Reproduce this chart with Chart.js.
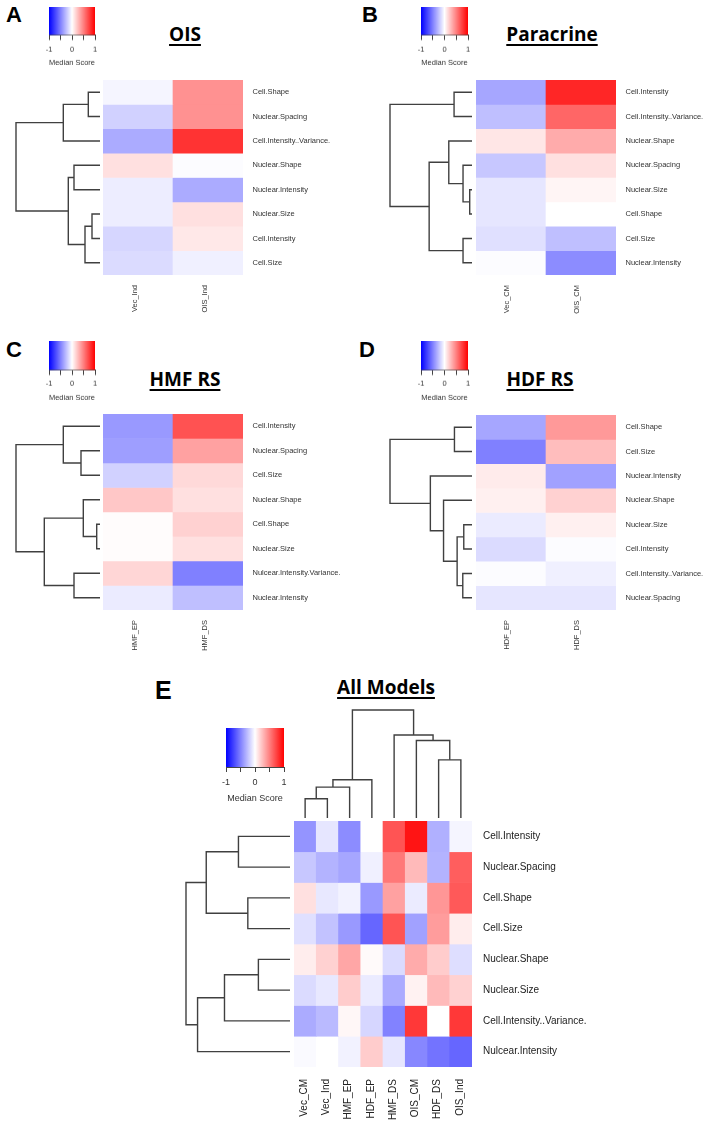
<!DOCTYPE html>
<html><head><meta charset="utf-8">
<script src="https://cdn.jsdelivr.net/npm/chart.js@4.4.1/dist/chart.umd.min.js"></script>
<style>
html,body{margin:0;padding:0;background:#fff;}
body{position:relative;width:707px;height:1124px;overflow:hidden;}
canvas{position:absolute;}
.letter{position:absolute;font-family:"Liberation Sans",Arial,sans-serif;font-weight:bold;color:#000;white-space:nowrap;}
.title{position:absolute;width:240px;text-align:center;font-family:"Open Sans",sans-serif;font-weight:bold;font-size:19px;line-height:19px;color:#000;text-decoration:underline;text-decoration-thickness:2px;text-underline-offset:3px;white-space:nowrap;}
</style></head><body>
<div class="letter" style="left:6px;top:4px;font-size:22px;line-height:22px;">A</div>
<div class="letter" style="left:362px;top:4px;font-size:22px;line-height:22px;">B</div>
<div class="letter" style="left:6px;top:339px;font-size:22px;line-height:22px;">C</div>
<div class="letter" style="left:359px;top:339px;font-size:22px;line-height:22px;">D</div>
<div class="letter" style="left:155px;top:678px;font-size:25px;line-height:25px;">E</div>
<div class="title" style="left:65px;top:25px;">OIS</div>
<div class="title" style="left:432px;top:25px;">Paracrine</div>
<div class="title" style="left:65px;top:370px;">HMF RS</div>
<div class="title" style="left:420px;top:370px;">HDF RS</div>
<div class="title" style="left:266px;top:678px;">All Models</div>
<script>
// ---------------- data ----------------
const scoreMin = -1, scoreMax = 1;
const keyTicks = [-1, -0.5, 0, 0.5, 1];
const keyTickLabels = ['-1', '', '0', '', '1'];
const keyTitle = 'Median Score';

// A: OIS
const oisRows = ['Cell.Shape','Nuclear.Spacing','Cell.Intensity..Variance.','Nuclear.Shape','Nuclear.Intensity','Nuclear.Size','Cell.Intensity','Cell.Size'];
const oisCols = ['Vec_Ind','OIS_Ind'];
const oisVecInd = [-0.04,-0.18,-0.33,0.12,-0.07,-0.07,-0.16,-0.14];
const oisOisInd = [0.43,0.43,0.80,-0.01,-0.33,0.12,0.09,-0.06];
const oisRowMerge = [[-1,-2,0.117],[1,-3,0.367],[-4,-5,0.26],[-6,-7,0.08],[4,-8,0.15],[3,5,0.317],[2,6,0.84]];

// B: Paracrine
const paraRows = ['Cell.Intensity','Cell.Intensity..Variance.','Nuclear.Shape','Nuclear.Spacing','Nuclear.Size','Cell.Shape','Cell.Size','Nuclear.Intensity'];
const paraCols = ['Vec_CM','OIS_CM'];
const paraVecCM = [-0.35,-0.25,0.10,-0.22,-0.10,-0.10,-0.12,-0.01];
const paraOisCM = [0.85,0.60,0.33,0.12,0.04,0.00,-0.25,-0.45];
const paraRowMerge = [[-1,-2,0.18],[-5,-6,0.023],[-4,2,0.09],[-3,3,0.233],[-7,-8,0.09],[4,5,0.43],[1,6,0.823]];

// C: HMF RS
const hmfRows = ['Cell.Intensity','Nuclear.Spacing','Cell.Size','Nuclear.Shape','Cell.Shape','Nuclear.Size','Nulcear.Intensity.Variance.','Nuclear.Intensity'];
const hmfCols = ['HMF_EP','HMF_DS'];
const hmfEP = [-0.40,-0.38,-0.18,0.22,0.01,0.01,0.16,-0.08];
const hmfDS = [0.68,0.37,0.15,0.12,0.18,0.12,-0.50,-0.25];
const hmfRowMerge = [[-2,-3,0.19],[-1,1,0.367],[-5,-6,0.033],[-4,3,0.167],[-7,-8,0.26],[4,5,0.557],[2,6,0.84]];

// D: HDF RS
const hdfRows = ['Cell.Shape','Cell.Size','Nuclear.Intensity','Nuclear.Shape','Nuclear.Size','Cell.Intensity','Cell.Intensity..Variance.','Nuclear.Spacing'];
const hdfCols = ['HDF_EP','HDF_DS'];
const hdfEP = [-0.35,-0.50,0.08,0.06,-0.08,-0.14,-0.01,-0.10];
const hdfDS = [0.40,0.26,-0.37,0.18,0.06,-0.01,-0.06,-0.10];
const hdfRowMerge = [[-1,-2,0.177],[-5,-6,0.083],[-7,-8,0.093],[2,3,0.15],[-4,4,0.287],[-3,5,0.42],[1,6,0.827]];

// E: All Models
const allRows = ['Cell.Intensity','Nuclear.Spacing','Cell.Shape','Cell.Size','Nuclear.Shape','Nuclear.Size','Cell.Intensity..Variance.','Nulcear.Intensity'];
const allCols = ['Vec_CM','Vec_Ind','HMF_EP','HDF_EP','HMF_DS','OIS_CM','HDF_DS','OIS_Ind'];
const allVecCM  = [-0.42,-0.22,0.12,-0.12,0.07,-0.14,-0.33,-0.02];
const allVecInd = [-0.10,-0.30,-0.09,-0.24,0.18,-0.09,-0.27,0.00];
const allHmfEP  = [-0.45,-0.35,-0.05,-0.40,0.35,0.20,0.03,-0.05];
const allHdfEP  = [0.00,-0.06,-0.40,-0.60,0.02,-0.08,-0.16,0.20];
const allHmfDS  = [0.67,0.53,0.37,0.67,-0.14,-0.33,-0.49,-0.10];
const allOisCM  = [0.92,0.27,-0.08,-0.37,0.33,0.05,0.78,-0.47];
const allHdfDS  = [-0.31,-0.30,0.41,0.39,0.20,0.27,0.00,-0.55];
const allOisInd = [-0.04,0.63,0.65,0.07,-0.13,0.18,0.78,-0.60];
const allRowMerge = [[-1,-2,0.517],[-3,-4,0.423],[1,2,0.84],[-5,-6,0.317],[4,-7,0.657],[5,-8,0.927],[3,6,1.043]];
const allColMerge = [[-1,-2,0.193],[1,-3,0.31],[2,-4,0.383],[-7,-8,0.583],[-6,4,0.777],[-5,5,0.833],[3,6,1.083]];

// ---------------- helpers ----------------
const FONT = "'Liberation Sans', Arial, sans-serif";
const LINE = '#404040';

function scoreColor(v) {
  const t = Math.max(-1, Math.min(1, v));
  if (t >= 0) { const g = Math.round(255 * (1 - t)); return `rgb(255,${g},${g})`; }
  const g = Math.round(255 * (1 + t)); return `rgb(${g},${g},255)`;
}
function addCanvas(left, top, w, h) {
  const c = document.createElement('canvas');
  c.width = w; c.height = h;
  c.style.left = left + 'px'; c.style.top = top + 'px';
  c.style.width = w + 'px'; c.style.height = h + 'px';
  document.body.appendChild(c);
  return c;
}
const baseOpts = {responsive: false, animation: false, events: [],
  plugins: {legend: {display: false}, tooltip: {enabled: false}}};

function heatmap(box, rows, cols, columns, fs, color) {
  const c = addCanvas(box.left, box.top, box.w + box.labelW, box.h + box.labelH);
  new Chart(c, {
    type: 'bar',
    data: {labels: cols, datasets: rows.map((r, i) => ({
      label: r,
      data: cols.map(() => [i, i + 1]),
      backgroundColor: columns.map(col => scoreColor(col[i])),
      borderWidth: 0, grouped: false, categoryPercentage: 1, barPercentage: 1
    }))},
    options: Object.assign({}, baseOpts, {
      layout: {padding: 0},
      scales: {
        x: {type: 'category', position: 'bottom', offset: true,
            grid: {display: false, drawTicks: false}, border: {display: false},
            ticks: {autoSkip: false, minRotation: 90, maxRotation: 90, padding: box.colPad,
                    labelOffset: box.labelOffset || 0, color, font: {family: FONT, size: fs}},
            afterFit: a => { a.height = box.labelH; a.paddingLeft = 0; a.paddingRight = 0; }},
        y: {type: 'linear', min: 0, max: rows.length, reverse: true, display: false},
        yLab: {type: 'category', labels: rows, position: 'right', offset: true,
            grid: {display: false, drawTicks: false}, border: {display: false},
            ticks: {autoSkip: false, padding: box.rowPad, color, font: {family: FONT, size: fs}},
            afterFit: a => { a.width = box.labelW; a.paddingTop = 0; a.paddingBottom = 0; }}
      }
    })
  });
}

function dendroSegments(merge) {
  const nodes = [];
  const get = k => k < 0 ? {pos: -k - 0.5, h: 0} : nodes[k - 1];
  return merge.map(([a, b, h]) => {
    const A = get(a), B = get(b);
    nodes.push({pos: (A.pos + B.pos) / 2, h});
    return [{p: A.pos, h: A.h}, {p: A.pos, h}, {p: B.pos, h}, {p: B.pos, h: B.h}];
  });
}

function rowDendro(box, merge, n) {
  const pad = 2;
  const maxH = Math.max(...merge.map(m => m[2]));
  const c = addCanvas(box.topX - pad, box.top - pad, box.leafX - box.topX + 2 * pad, box.bottom - box.top + 2 * pad);
  new Chart(c, {
    type: 'scatter',
    data: {datasets: dendroSegments(merge).map(s => ({
      data: s.map(q => ({x: q.h, y: q.p})), showLine: true, borderColor: LINE, borderWidth: 1.4,
      pointRadius: 0, fill: false, tension: 0, clip: false}))},
    options: Object.assign({}, baseOpts, {
      layout: {padding: pad},
      scales: {x: {type: 'linear', min: 0, max: maxH, reverse: true, display: false},
               y: {type: 'linear', min: 0, max: n, reverse: true, display: false}}
    })
  });
}

function colDendro(box, merge, n) {
  const pad = 2;
  const maxH = Math.max(...merge.map(m => m[2]));
  const c = addCanvas(box.left - pad, box.topY - pad, box.right - box.left + 2 * pad, box.leafY - box.topY + 2 * pad);
  new Chart(c, {
    type: 'scatter',
    data: {datasets: dendroSegments(merge).map(s => ({
      data: s.map(q => ({x: q.p, y: q.h})), showLine: true, borderColor: LINE, borderWidth: 1.4,
      pointRadius: 0, fill: false, tension: 0, clip: false}))},
    options: Object.assign({}, baseOpts, {
      layout: {padding: pad},
      scales: {x: {type: 'linear', min: 0, max: n, display: false},
               y: {type: 'linear', min: 0, max: maxH, display: false}}
    })
  });
}

function colorKey(box, fs) {
  const c = addCanvas(box.left - box.padX, box.top, box.w + 2 * box.padX, box.h + box.axisH);
  new Chart(c, {
    type: 'bar',
    data: {labels: ['key'], datasets: [{
      data: [[scoreMin, scoreMax]],
      backgroundColor: (ctx) => {
        const ch = ctx.chart;
        if (!ch.chartArea) return '#fff';
        const sx = ch.scales.x;
        const g = ch.ctx.createLinearGradient(sx.getPixelForValue(scoreMin), 0, sx.getPixelForValue(scoreMax), 0);
        keyTicks.forEach(v => g.addColorStop((v - scoreMin) / (scoreMax - scoreMin), scoreColor(v)));
        return g;
      },
      borderWidth: 0, categoryPercentage: 1, barPercentage: 1
    }]},
    options: Object.assign({}, baseOpts, {
      indexAxis: 'y',
      layout: {padding: {left: box.padX, right: box.padX, top: 0, bottom: 0}},
      scales: {
        y: {display: false},
        x: {type: 'linear', min: scoreMin, max: scoreMax,
            afterBuildTicks: a => { a.ticks = keyTicks.map(v => ({value: v})); },
            grid: {drawOnChartArea: false, drawTicks: true, tickLength: 5, color: '#444', lineWidth: 1},
            border: {display: true, color: '#444', width: 1},
            ticks: {padding: box.tickPad, color: '#333', font: {family: FONT, size: fs},
                    minRotation: 0, maxRotation: 0, autoSkip: false,
                    callback: (v, i) => keyTickLabels[i]},
            title: {display: true, text: keyTitle, color: '#333', font: {family: FONT, size: fs},
                    padding: {top: 0, bottom: 2}},
            afterFit: a => { a.height = box.axisH; a.paddingLeft = 0; a.paddingRight = 0; }}
      }
    })
  });
}

// ---------------- panels ----------------
const smallFs = 7.5, bigFs = 10;
// A
heatmap({left: 103, top: 80, w: 140, h: 195, labelW: 104, labelH: 50, rowPad: 9.5, colPad: 10, labelOffset: -3},
        oisRows, oisCols, [oisVecInd, oisOisInd], smallFs, '#333');
rowDendro({leafX: 100, topX: 16, top: 80, bottom: 275}, oisRowMerge, oisRows.length);
colorKey({left: 48.5, top: 7, w: 46, h: 28, padX: 8, axisH: 33.5, tickPad: 5}, smallFs);
// B
heatmap({left: 476, top: 80, w: 140, h: 195, labelW: 91, labelH: 50, rowPad: 9.5, colPad: 10, labelOffset: -4},
        paraRows, paraCols, [paraVecCM, paraOisCM], smallFs, '#333');
rowDendro({leafX: 472, topX: 390, top: 80, bottom: 275}, paraRowMerge, paraRows.length);
colorKey({left: 421, top: 7, w: 47, h: 28, padX: 8, axisH: 33.5, tickPad: 5}, smallFs);
// C
heatmap({left: 103, top: 414, w: 140, h: 196, labelW: 104, labelH: 50, rowPad: 9.5, colPad: 10, labelOffset: -3},
        hmfRows, hmfCols, [hmfEP, hmfDS], smallFs, '#333');
rowDendro({leafX: 100, topX: 16, top: 414, bottom: 610}, hmfRowMerge, hmfRows.length);
colorKey({left: 48.5, top: 341, w: 46, h: 29, padX: 8, axisH: 33.5, tickPad: 4}, smallFs);
// D
heatmap({left: 476, top: 415, w: 140, h: 195, labelW: 91, labelH: 50, rowPad: 9.5, colPad: 10, labelOffset: -4},
        hdfRows, hdfCols, [hdfEP, hdfDS], smallFs, '#333');
rowDendro({leafX: 472, topX: 390, top: 415, bottom: 610}, hdfRowMerge, hdfRows.length);
colorKey({left: 421, top: 341, w: 47, h: 29, padX: 8, axisH: 33.5, tickPad: 4}, smallFs);
// E
heatmap({left: 294, top: 821, w: 178, h: 246, labelW: 118, labelH: 57, rowPad: 11, colPad: 12, labelOffset: -1},
        allRows, allCols, [allVecCM, allVecInd, allHmfEP, allHdfEP, allHmfDS, allOisCM, allHdfDS, allOisInd], bigFs, '#222');
rowDendro({leafX: 290, topX: 186, top: 821, bottom: 1067}, allRowMerge, allRows.length);
colDendro({left: 294, right: 472, topY: 710, leafY: 818}, allColMerge, allCols.length);
colorKey({left: 226, top: 728, w: 58, h: 39, padX: 9, axisH: 39, tickPad: 5.5}, 9);
</script>
</body></html>
